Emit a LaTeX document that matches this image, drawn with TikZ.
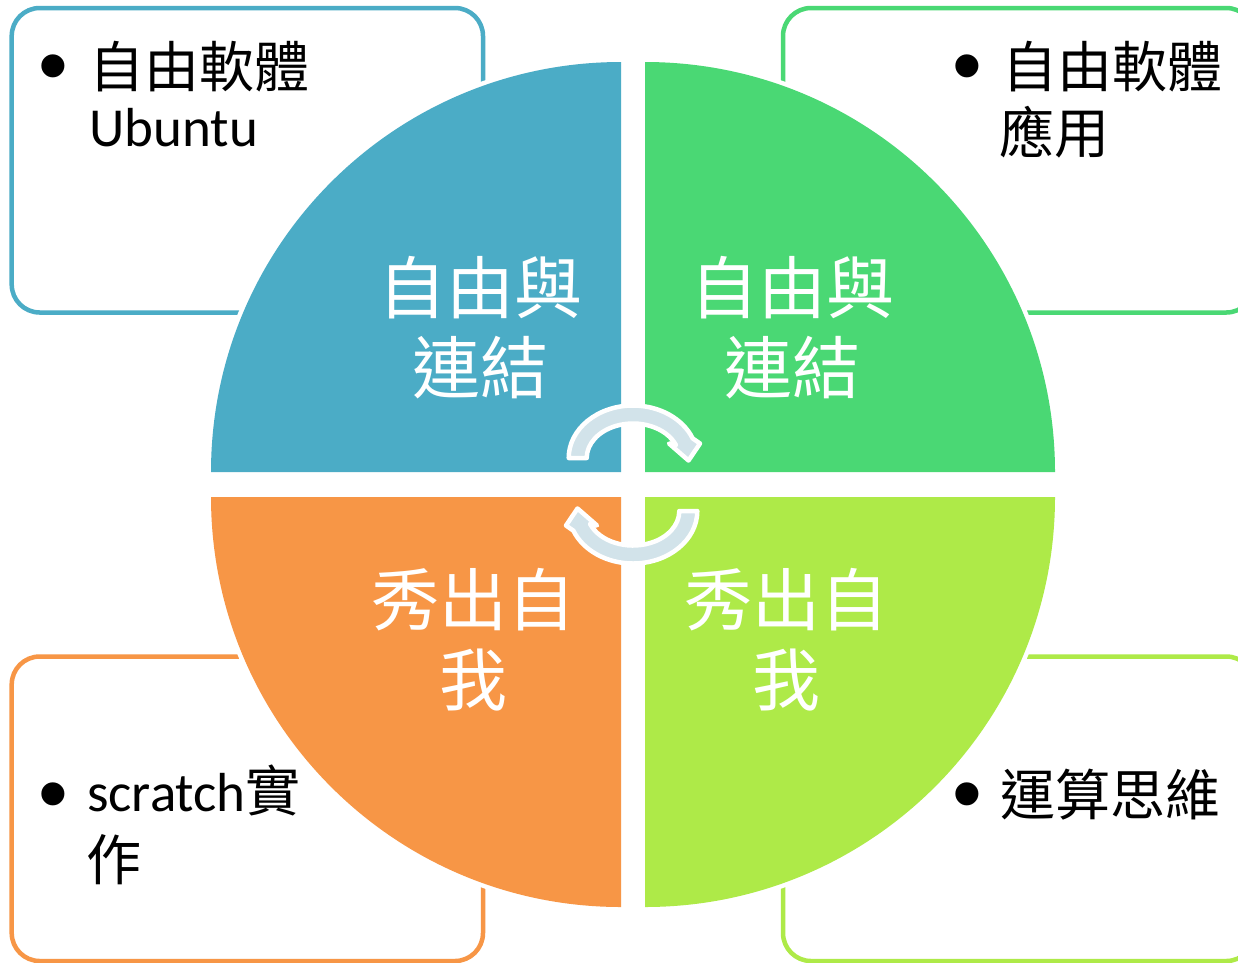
\documentclass[tikz,border=0pt]{standalone}
\usepackage{fontspec}
\setmainfont{Carlito}
\newfontfamily\cjk{Noto Sans CJK TC}
\newfontfamily\bulletfont{Liberation Sans}
\usetikzlibrary{calc}
\definecolor{qblue}{HTML}{4BACC6}
\definecolor{qgreen}{HTML}{4AD874}
\definecolor{qorange}{HTML}{F79646}
\definecolor{qlime}{HTML}{AEEA48}
\definecolor{arrowfill}{HTML}{D2E3EA}
\tikzset{
  boxline/.style={line width=4.5pt, rounded corners=28pt, fill=white},
  halo/.style={draw=white, line width=9pt},
  qtext/.style={text=white, font=\cjk\fontsize{68}{80}\selectfont, align=center, inner sep=0pt},
  btext/.style={font=\fontsize{55}{64}\selectfont, inner sep=0pt, anchor=base west, text=black},
  bul/.style={font=\bulletfont\fontsize{85}{90}\selectfont, inner sep=0pt, text=black, anchor=base},
  arrowshape/.style={fill=arrowfill, draw=white, line width=4.5pt, line join=round}
}
\begin{document}
\begin{tikzpicture}[x=1pt,y=-1pt]
\useasboundingbox (0,0) rectangle (1238,962);
\clip (0,0) rectangle (1238,962);
\fill[white] (0,0) rectangle (1238,962);

% boxes
\draw[boxline, draw=qblue]   (11.7,8) rectangle (483,312.5);
\draw[boxline, draw=qgreen]  (783,8) rectangle (1254.3,312.5);
\draw[boxline, draw=qorange] (11.7,656.5) rectangle (483,961);
\draw[boxline, draw=qlime]   (783,656.5) rectangle (1254.3,961);

% quadrants: halo then fill
\draw[halo] (211,472) arc[start angle=180, end angle=270, radius=410];
\draw[halo] (645,62) arc[start angle=270, end angle=360, radius=410];
\draw[halo] (1055,497) arc[start angle=0, end angle=90, radius=410];
\draw[halo] (621,907) arc[start angle=90, end angle=180, radius=410];

\fill[qblue]   (621,472) -- (211,472) arc[start angle=180, end angle=270, radius=410] -- cycle;
\fill[qgreen]  (645,472) -- (645,62) arc[start angle=270, end angle=360, radius=410] -- cycle;
\fill[qlime]   (645,497) -- (1055,497) arc[start angle=0, end angle=90, radius=410] -- cycle;
\fill[qorange] (621,497) -- (621,907) arc[start angle=90, end angle=180, radius=410] -- cycle;

% quadrant labels
\node[qtext] (qtl) at (480,328) {自由與\\連結};
\node[qtext] (qtr) at (792,328) {自由與\\連結};
\node[qtext] (qbl) at (473,640) {秀出自\\我};
\node[qtext] (qbr) at (786,640) {秀出自\\我};

% center circular arrows
\coordinate (c1) at (633,458);
\coordinate (c2) at (633,511);
\filldraw[arrowshape] ($(c1)+(180:64.3 and 52.5)$)
  arc[start angle=180, end angle=338, x radius=64.3, y radius=52.5]
  -- (700,443.5) -- (688.5,460.5) -- (669,443.5)
  -- ($(c1)+(338:46.3 and 34.5)$)
  arc[start angle=338, end angle=180, x radius=46.3, y radius=34.5] -- cycle;
\filldraw[arrowshape] ($(c2)+(0:64.3 and 52.5)$)
  arc[start angle=0, end angle=158, x radius=64.3, y radius=52.5]
  -- (566,525.5) -- (577.5,508.5) -- (597,525.5)
  -- ($(c2)+(158:46.3 and 34.5)$)
  arc[start angle=158, end angle=0, x radius=46.3, y radius=34.5] -- cycle;

% box texts
\node[bul] (b1) at (53,94) {•};
\node[btext] (t1a) at (89,87.5) {\cjk 自由軟體};
\node[btext] (t1b) at (89,146.7) {Ubuntu};

\node[bul] (b2) at (967,94) {•};
\node[btext] (t2a) at (1002,87.5) {\cjk 自由軟體};
\node[btext] (t2b) at (999,153.5) {\cjk 應用};

\node[bul] (b3) at (53,822) {•};
\node[btext] (t3a) at (87,811) {scratch{\cjk 實}};
\node[btext] (t3b) at (86,880) {\cjk 作};

\node[bul] (b4) at (967,822) {•};
\node[btext] (t4a) at (1000,815) {\cjk 運算思維};
\end{tikzpicture}
\end{document}
